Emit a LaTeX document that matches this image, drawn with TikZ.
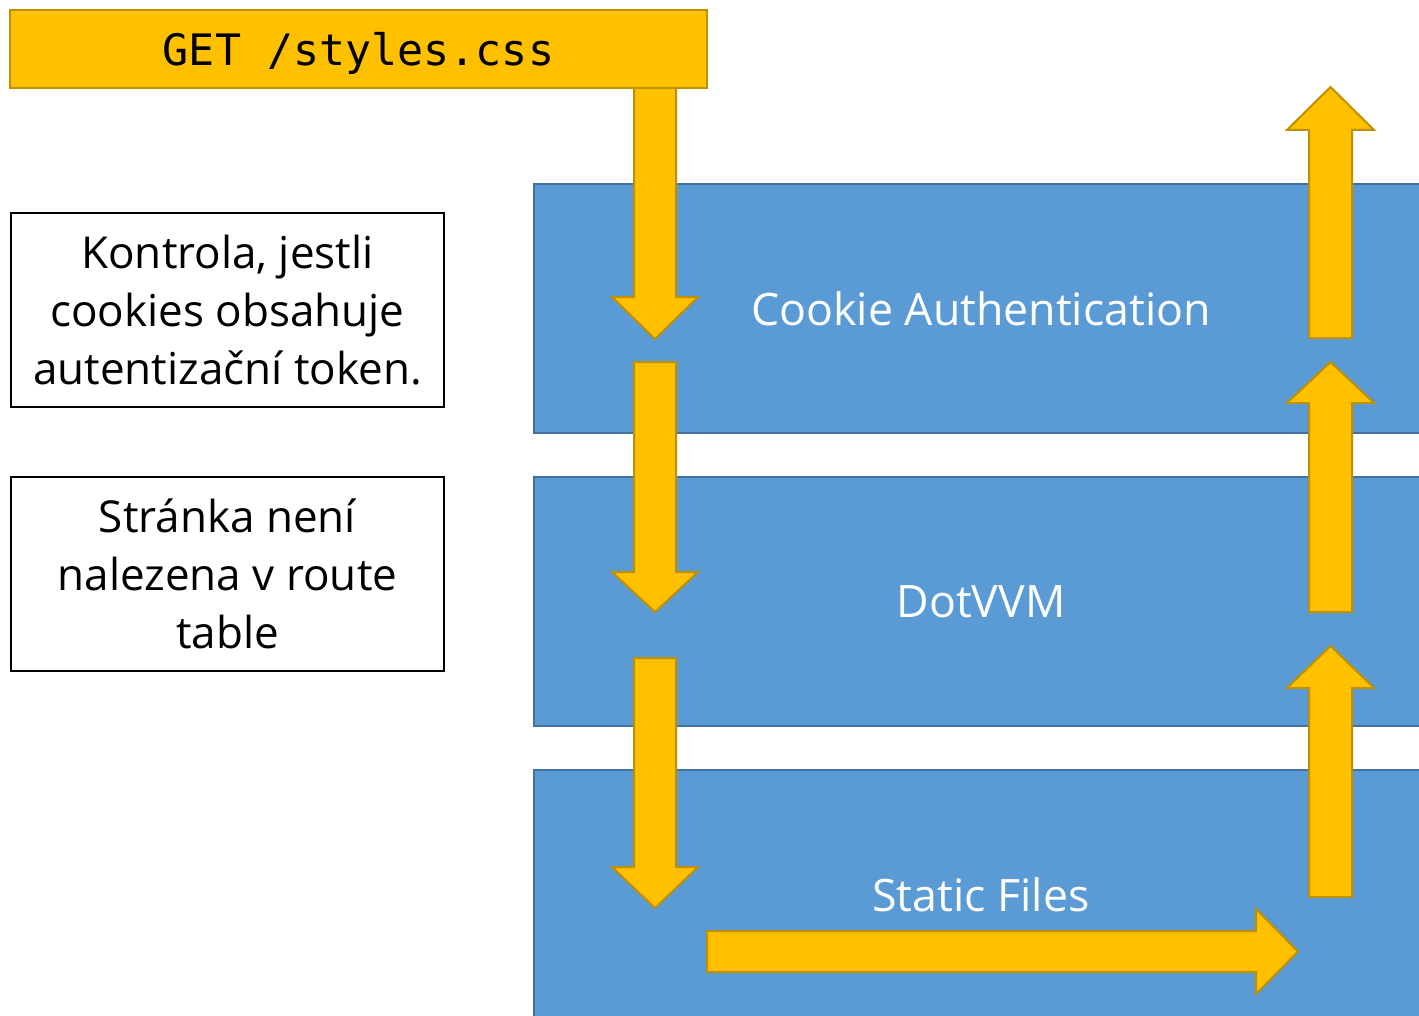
\documentclass[tikz,border=0pt]{standalone}
\usepackage{fontspec}
\setmainfont{Open Sans}
\newfontfamily\codefont{DejaVu Sans Mono}
\definecolor{gold}{HTML}{FFC000}
\definecolor{golddark}{HTML}{BF9000}
\definecolor{layerblue}{HTML}{5B9BD5}
\definecolor{layerdark}{HTML}{41719C}
\tikzset{
  layer/.style={draw=layerdark, fill=layerblue, line width=1.5pt,
    minimum width=670pt, minimum height=186.75pt, inner sep=0pt,
    text=white, font=\fontsize{33.5}{40}\selectfont},
  note/.style={draw=black, line width=1.5pt, minimum width=324.75pt,
    minimum height=145.5pt, align=center, inner sep=0pt,
    font=\fontsize{33}{43.5}\selectfont},
  request/.style={draw=golddark, fill=gold, line width=1.5pt,
    minimum width=522.75pt, minimum height=58.5pt, inner sep=0pt,
    text depth=0pt, font=\codefont\fontsize{32.5}{38}\selectfont},
  bigarrow/.style={draw=golddark, fill=gold, line width=1.5pt, line join=miter},
}
\begin{document}
\begin{tikzpicture}[x=0.75pt, y=-0.75pt]
  \useasboundingbox (0,0) rectangle (1419,1016);
  \clip (0,0) rectangle (1419,1016);
  % middleware layers
  \node[layer] (cookie) at (981,308.5) {Cookie Authentication};
  \node[layer] (dotvvm) at (981,601.5) {DotVVM};
  \node[layer] (static) at (981,894.5) {Static Files};
  % notes on the left
  \node[note] (auth) at (227.5,310) {Kontrola, jestli\\cookies obsahuje\\autentizační token.};
  \node[note] (route) at (227.5,574) {Stránka není\\nalezena v route\\table};
  % request going down
  \draw[bigarrow] (634,80) -- (676,80) -- (676,297) -- (698,297) -- (655,339) -- (612,297) -- (634,297) -- cycle;
  \draw[bigarrow] (634,362) -- (676,362) -- (676,572) -- (698,572) -- (655,612) -- (612,572) -- (634,572) -- cycle;
  \draw[bigarrow] (634,658) -- (676,658) -- (676,867) -- (698,867) -- (655,908) -- (612,867) -- (634,867) -- cycle;
  \draw[bigarrow] (707,931) -- (1256,931) -- (1256,909) -- (1298,951.5) -- (1256,994) -- (1256,972) -- (707,972) -- cycle;
  % response going up
  \draw[bigarrow] (1309,897) -- (1352,897) -- (1352,688) -- (1374,688) -- (1330.5,646) -- (1287,688) -- (1309,688) -- cycle;
  \draw[bigarrow] (1309,612) -- (1352,612) -- (1352,403) -- (1374,403) -- (1330.5,362) -- (1287,403) -- (1309,403) -- cycle;
  \draw[bigarrow] (1309,338) -- (1352,338) -- (1352,130) -- (1374,130) -- (1330.5,87) -- (1287,130) -- (1309,130) -- cycle;
  \node[request] (get) at (358.5,49) {GET /styles.css};
\end{tikzpicture}
\end{document}
